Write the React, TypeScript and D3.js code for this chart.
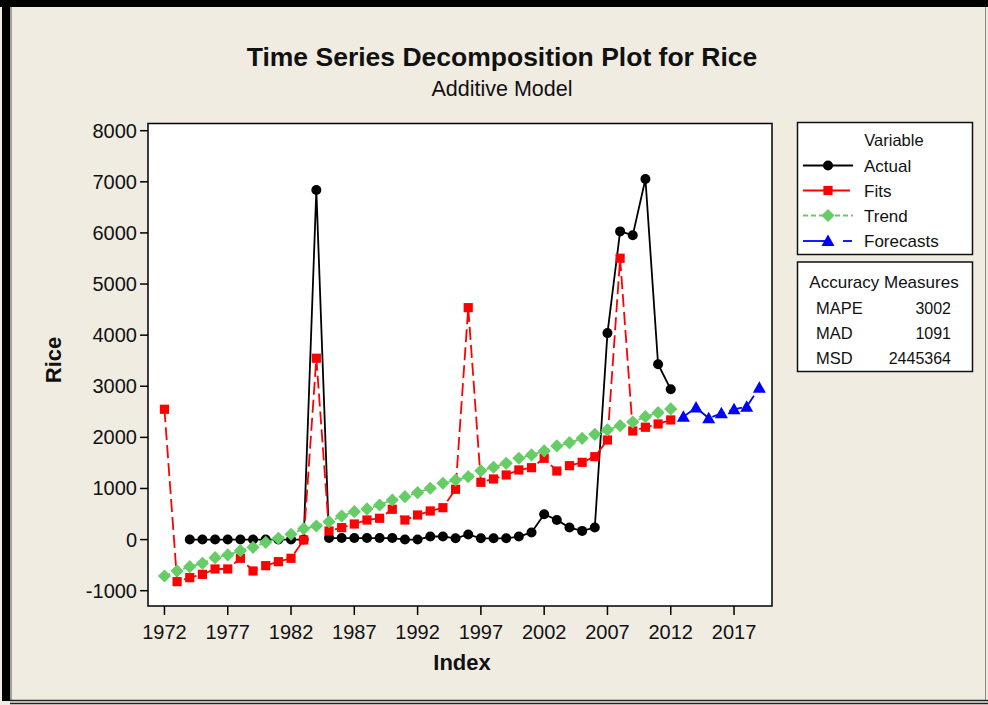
import React from "react";
import * as d3 from "d3";

const fitYears: number[] = d3.range(1972, 2013);
const actualValues: (number | null)[] = [
  null, null, 0, 0, 0, 0, 0, 0, 0, 0, 0, 0, 6840, 30, 30, 30, 30, 30, 30, 0,
  0, 60, 60, 25, 100, 25, 25, 25, 60, 140, 495, 385, 235, 170, 235, 4040, 6030, 5955, 7055, 3430, 2940,
];
const fitsValues: number[] = [
  2550, -823, -745, -680, -575, -575, -366, -614, -510, -432, -366, -8, 3548, 168, 234, 305, 383, 417, 593, 383,
  481, 560, 624, 984, 4538, 1121, 1186, 1264, 1362, 1407, 1591, 1342, 1446, 1512, 1622, 1949, 5505, 2125, 2198, 2262, 2341,
];
const trendValues: number[] = [
  -712, -614, -530, -464, -354, -301, -217, -151, -53, 25, 104, 213, 266, 350, 462, 546, 599, 677, 775, 840,
  918, 1004, 1102, 1166, 1231, 1348, 1415, 1493, 1591, 1656, 1734, 1832, 1896, 1982, 2060, 2145, 2229, 2300, 2405, 2483, 2556,
];
const forecastYears: number[] = [2013, 2014, 2015, 2016, 2017, 2018, 2019];
const forecastValues: number[] = [2405, 2582, 2374, 2472, 2550, 2601, 2973];

const xTicks: number[] = [1972, 1977, 1982, 1987, 1992, 1997, 2002, 2007, 2012, 2017];
const yTicks: number[] = [-1000, 0, 1000, 2000, 3000, 4000, 5000, 6000, 7000, 8000];

const legendItems = ["Actual", "Fits", "Trend", "Forecasts"];
const accuracyLabels = ["MAPE", "MAD", "MSD"];
const accuracyValues = ["3002", "1091", "2445364"];

const FONT = "'Liberation Sans', Arial, sans-serif";
const BG = "#F0ECE2";
const GREEN = "#66CC66";

const PL = 148, PR = 772, PT = 123.5, PB = 606;

const x = d3.scaleLinear().domain([1970.7, 2020.0]).range([PL, PR]);
const y = d3.scaleLinear().domain([-1000, 8000]).range([590.7, 130.7]);

type Pt = { t: number; v: number | null };

const lineGen = d3
  .line<Pt>()
  .defined((d) => d.v !== null)
  .x((d) => x(d.t))
  .y((d) => y(d.v as number));

const actualPts: Pt[] = fitYears.map((t, i) => ({ t, v: actualValues[i] }));
const fitsPts: Pt[] = fitYears.map((t, i) => ({ t, v: fitsValues[i] }));
const trendPts: Pt[] = fitYears.map((t, i) => ({ t, v: trendValues[i] }));
const forecastPts: Pt[] = forecastYears.map((t, i) => ({ t, v: forecastValues[i] }));

const SQ = "M-4.6,-4.6H4.6V4.6H-4.6Z";
const DIA = "M0,-6.6L6.6,0L0,6.6L-6.6,0Z";
const TRI = "M0,-6.5L6.5,5L-6.5,5Z";

function Marker({ kind, cx, cy }: { kind: string; cx: number; cy: number }) {
  if (kind === "Actual") return <circle cx={cx} cy={cy} r={5} fill="#000" />;
  if (kind === "Fits") return <path d={SQ} transform={`translate(${cx},${cy})`} fill="#FF0000" />;
  if (kind === "Trend") return <path d={DIA} transform={`translate(${cx},${cy})`} fill={GREEN} />;
  return <path d={TRI} transform={`translate(${cx},${cy})`} fill="#0000FF" />;
}

export default function App() {
  const legendY = [165.5, 190.5, 215.5, 241];
  return (
    <svg
      width={988}
      height={705}
      style={{ position: "absolute", left: 0, top: 0 }}
      fontFamily={FONT}
    >
      <rect x={0} y={0} width={988} height={705} fill={BG} />
      {/* outer frame */}
      <rect x={0} y={0} width={988} height={7} fill="#000" />
      <rect x={2} y={0} width={8} height={701} fill="#000" />
      <line x1={11} y1={7} x2={11} y2={700} stroke="#555" strokeWidth={1} />
      <line x1={10} y1={700.5} x2={988} y2={700.5} stroke="#222" strokeWidth={1.5} />
      <line x1={10} y1={703.5} x2={988} y2={703.5} stroke="#222" strokeWidth={1.5} />
      <line x1={985.5} y1={7} x2={985.5} y2={700} stroke="#888" strokeWidth={1} />

      {/* titles */}
      <text x={502} y={66} textAnchor="middle" fontSize={26.5} fontWeight="bold" fill="#111">
        Time Series Decomposition Plot for Rice
      </text>
      <text x={502} y={96} textAnchor="middle" fontSize={21.5} fill="#111">
        Additive Model
      </text>

      {/* plot area */}
      <rect x={PL} y={PT} width={PR - PL} height={PB - PT} fill="#fff" stroke="#000" strokeWidth={1.5} />

      {/* y ticks */}
      {yTicks.map((t) => (
        <g key={t}>
          <line x1={PL - 8} x2={PL} y1={y(t)} y2={y(t)} stroke="#000" strokeWidth={1.5} />
          <text x={PL - 11} y={y(t) + 7} textAnchor="end" fontSize={20} fill="#111">
            {t}
          </text>
        </g>
      ))}
      {/* x ticks */}
      {xTicks.map((t) => (
        <g key={t}>
          <line x1={x(t)} x2={x(t)} y1={PB} y2={PB + 9} stroke="#000" strokeWidth={1.5} />
          <text x={x(t)} y={639} textAnchor="middle" fontSize={20} fill="#111">
            {t}
          </text>
        </g>
      ))}
      <text x={462} y={670} textAnchor="middle" fontSize={22} fontWeight="bold" fill="#111">
        Index
      </text>
      <text
        transform="translate(61,360) rotate(-90)"
        textAnchor="middle"
        fontSize={22}
        fontWeight="bold"
        fill="#111"
      >
        Rice
      </text>

      {/* series */}
      <path d={lineGen(actualPts) as string} fill="none" stroke="#000" strokeWidth={1.8} />
      <path d={lineGen(fitsPts) as string} fill="none" stroke="#FF0000" strokeWidth={1.8} strokeDasharray="13,5" />
      <path d={lineGen(trendPts) as string} fill="none" stroke={GREEN} strokeWidth={1.8} strokeDasharray="6,4" />
      <path d={lineGen(forecastPts) as string} fill="none" stroke="#0000FF" strokeWidth={1.8} strokeDasharray="13,5" />

      {actualPts.filter((d) => d.v !== null).map((d) => (
        <Marker key={"a" + d.t} kind="Actual" cx={x(d.t)} cy={y(d.v as number)} />
      ))}
      {fitsPts.map((d) => (
        <Marker key={"f" + d.t} kind="Fits" cx={x(d.t)} cy={y(d.v as number)} />
      ))}
      {trendPts.map((d) => (
        <Marker key={"t" + d.t} kind="Trend" cx={x(d.t)} cy={y(d.v as number)} />
      ))}
      {forecastPts.map((d) => (
        <Marker key={"p" + d.t} kind="Forecasts" cx={x(d.t)} cy={y(d.v as number)} />
      ))}

      {/* legend */}
      <rect x={797.5} y={122.5} width={175} height={132} fill="#fff" stroke="#111" strokeWidth={1.5} />
      <text x={894} y={146} textAnchor="middle" fontSize={16.5} fill="#111">
        Variable
      </text>
      {legendItems.map((name, i) => {
        const ly = legendY[i];
        return (
          <g key={name}>
            {name === "Actual" && <line x1={803} x2={853} y1={ly} y2={ly} stroke="#000" strokeWidth={1.8} />}
            {name === "Fits" && <line x1={803} x2={850} y1={ly} y2={ly} stroke="#FF0000" strokeWidth={1.8} />}
            {name === "Trend" && (
              <line x1={803} x2={853} y1={ly} y2={ly} stroke={GREEN} strokeWidth={1.8} strokeDasharray="5,3" />
            )}
            {name === "Forecasts" && (
              <>
                <line x1={803} x2={828} y1={ly} y2={ly} stroke="#0000FF" strokeWidth={1.8} />
                <line x1={843} x2={852} y1={ly} y2={ly} stroke="#0000FF" strokeWidth={1.8} />
              </>
            )}
            <Marker kind={name} cx={828} cy={ly} />
            <text x={864} y={ly + 6} fontSize={17} fill="#111">
              {name}
            </text>
          </g>
        );
      })}

      {/* accuracy box */}
      <rect x={797.5} y={262} width={175} height={109.5} fill="#fff" stroke="#111" strokeWidth={1.5} />
      <text x={884} y={288} textAnchor="middle" fontSize={17} fill="#111">
        Accuracy Measures
      </text>
      {accuracyLabels.map((lab, i) => (
        <g key={lab}>
          <text x={816} y={313.5 + i * 25.3} fontSize={16.5} fill="#111">
            {lab}
          </text>
          <text x={951} y={313.5 + i * 25.3} textAnchor="end" fontSize={16} fill="#111">
            {accuracyValues[i]}
          </text>
        </g>
      ))}
    </svg>
  );
}
